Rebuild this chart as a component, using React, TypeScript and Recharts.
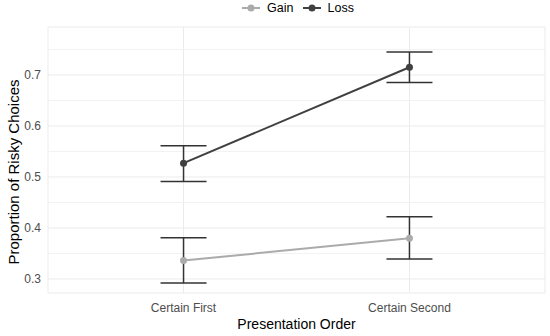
import React from 'react';
import { LineChart, Line, XAxis, YAxis, CartesianGrid, ErrorBar, ReferenceLine } from 'recharts';

const categories = ['Certain First', 'Certain Second'];
const gainMean = [0.336, 0.38];
const gainLow = [0.292, 0.339];
const gainHigh = [0.381, 0.422];
const lossMean = [0.527, 0.715];
const lossLow = [0.491, 0.685];
const lossHigh = [0.561, 0.745];
const yTicks = [0.3, 0.4, 0.5, 0.6, 0.7];
const yMinor = [0.35, 0.45, 0.55, 0.65, 0.75];

const GAIN = '#ababab';
const LOSS = '#404040';
const ERR = '#333333';

const data = categories.map((c, i) => ({
  x: i + 1,
  name: c,
  gain: gainMean[i],
  gainErr: [gainMean[i] - gainLow[i], gainHigh[i] - gainMean[i]],
  loss: lossMean[i],
  lossErr: [lossMean[i] - lossLow[i], lossHigh[i] - lossMean[i]],
}));

const font = 'Arial, "Liberation Sans", Helvetica, sans-serif';

const LegendKey = ({ color }: { color: string }) => (
  <svg width={18} height={10} style={{ display: 'inline-block', verticalAlign: 'middle' }}>
    <line x1={0} y1={5} x2={18} y2={5} stroke={color} strokeWidth={2} />
    <circle cx={9} cy={5} r={3.5} fill={color} />
  </svg>
);

export default function App() {
  return (
    <div style={{ position: 'absolute', left: 0, top: 0, width: 550, height: 336, background: '#fff', fontFamily: font }}>
      <div style={{ position: 'absolute', top: 1, left: 0, width: 596, display: 'flex', justifyContent: 'center', alignItems: 'center', fontSize: 12.5, color: '#000', pointerEvents: 'none' }}>
        <span style={{ display: 'flex', alignItems: 'center' }}>
          <LegendKey color={GAIN} />
          <span style={{ marginLeft: 7 }}>Gain</span>
        </span>
        <span style={{ display: 'flex', alignItems: 'center', marginLeft: 9 }}>
          <LegendKey color={LOSS} />
          <span style={{ marginLeft: 7 }}>Loss</span>
        </span>
      </div>
      <LineChart width={550} height={336} data={data} margin={{ top: 27, right: 5, bottom: 0, left: 0 }}>
        <CartesianGrid stroke="#ebebeb" strokeWidth={1} />
        {yMinor.map((v) => (
          <ReferenceLine key={v} y={v} stroke="#f2f2f2" strokeWidth={1} ifOverflow="hidden" />
        ))}
        <XAxis
          dataKey="x"
          type="number"
          domain={[0.4, 2.6]}
          ticks={[1, 2]}
          tickFormatter={(v: number) => categories[v - 1]}
          axisLine={false}
          tickLine={false}
          tickSize={0}
          tickMargin={10}
          height={43}
          tick={{ fill: '#4d4d4d', fontSize: 12, fontFamily: font }}
          label={{ value: 'Presentation Order', position: 'insideBottom', offset: 7, fill: '#000', fontSize: 14, fontFamily: font }}
        />
        <YAxis
          type="number"
          domain={[0.2725, 0.794]}
          ticks={yTicks}
          allowDataOverflow
          width={48}
          axisLine={false}
          tickLine={false}
          tickSize={0}
          tickMargin={7}
          tickFormatter={(v: number) => v.toFixed(1)}
          tick={{ fill: '#4d4d4d', fontSize: 12, fontFamily: font }}
          label={() => (
            <text x={13} y={172} transform="rotate(-90 13 172)" textAnchor="middle" dominantBaseline="central" fill="#000" fontSize={15} fontFamily={font}>
              Proportion of Risky Choices
            </text>
          )}
        />
        <Line dataKey="gain" stroke={GAIN} strokeWidth={2} isAnimationActive={false} dot={{ r: 3.5, fill: GAIN, stroke: GAIN, strokeWidth: 0 }} activeDot={false}>
          <ErrorBar dataKey="gainErr" direction="y" width={23} stroke={ERR} strokeWidth={1.5} isAnimationActive={false} />
        </Line>
        <Line dataKey="loss" stroke={LOSS} strokeWidth={2} isAnimationActive={false} dot={{ r: 3.5, fill: LOSS, stroke: LOSS, strokeWidth: 0 }} activeDot={false}>
          <ErrorBar dataKey="lossErr" direction="y" width={23} stroke={ERR} strokeWidth={1.5} isAnimationActive={false} />
        </Line>
      </LineChart>
    </div>
  );
}
